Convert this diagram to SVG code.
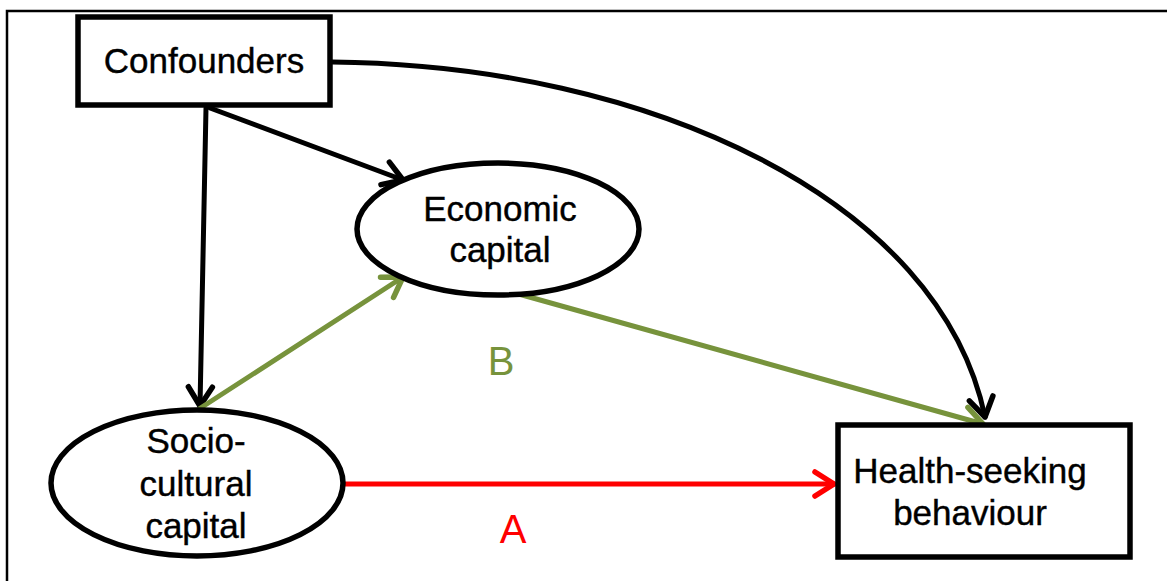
<svg xmlns="http://www.w3.org/2000/svg" width="1167" height="581" viewBox="0 0 1167 581">
<style>
.node{fill:#fff;stroke:#000;stroke-width:5.5}
.lbl{font-family:"Liberation Sans",Arial,sans-serif;font-size:35px;text-anchor:middle;fill:#000;stroke:#000;stroke-width:0.4}
.edge{fill:none;stroke-width:5;stroke-linecap:round}
.k{stroke:#000}
.g{stroke:#77933c}
.r{stroke:#ff0000}
.tag{font-family:"Liberation Sans",Arial,sans-serif;font-size:40px;text-anchor:middle}
</style>
<defs>
<marker id="mk" markerWidth="40" markerHeight="40" refX="0" refY="0" orient="auto" markerUnits="userSpaceOnUse" viewBox="-25 -20 40 40">
<path d="M-19,-12 L0,0 L-19,12" fill="none" stroke="#000" stroke-width="5.5" stroke-linecap="round" stroke-linejoin="round"/>
</marker>
<marker id="mg" markerWidth="40" markerHeight="40" refX="0" refY="0" orient="auto" markerUnits="userSpaceOnUse" viewBox="-25 -20 40 40">
<path d="M-19,-12 L0,0 L-19,12" fill="none" stroke="#77933c" stroke-width="5.5" stroke-linecap="round" stroke-linejoin="round"/>
</marker>
<marker id="mr" markerWidth="40" markerHeight="40" refX="0" refY="0" orient="auto" markerUnits="userSpaceOnUse" viewBox="-25 -20 40 40">
<path d="M-19,-12 L0,0 L-19,12" fill="none" stroke="#ff0000" stroke-width="5.5" stroke-linecap="round" stroke-linejoin="round"/>
</marker>
</defs>
<rect width="1167" height="581" fill="#fff"/>
<path d="M7,581 L7,11 L1167,11" fill="none" stroke="#000" stroke-width="2.5"/>
<g id="connectors">
<path class="edge k" d="M206,108 L200,406" marker-end="url(#mk)"/>
<path class="edge k" d="M210,108 L403,180" marker-end="url(#mk)"/>
<path class="edge k" d="M332,62 C650,65 940,200 985,417" marker-end="url(#mk)"/>
<path class="edge g" d="M199,409 L403,277" marker-end="url(#mg)"/>
<path class="edge g" d="M515,293 L983,424" marker-end="url(#mg)"/>
<path class="edge r" d="M343,484 L834,484" marker-end="url(#mr)"/>
<text class="tag" x="501" y="375" fill="#77933c">B</text>
<text class="tag" x="513" y="543" fill="#ff0000">A</text>
</g>
<g id="confounders">
<rect class="node" x="78" y="17" width="252" height="88"/>
<text class="lbl" x="204" y="73">Confounders</text>
</g>
<g id="economic">
<ellipse class="node" cx="498" cy="229" rx="141" ry="66"/>
<text class="lbl" x="500" y="221">Economic</text>
<text class="lbl" x="500" y="262">capital</text>
</g>
<g id="socio">
<ellipse class="node" cx="197" cy="483" rx="146" ry="73"/>
<text class="lbl" x="196" y="453">Socio-</text>
<text class="lbl" x="196" y="496">cultural</text>
<text class="lbl" x="196" y="538">capital</text>
</g>
<g id="health">
<rect class="node" x="838" y="425" width="292" height="132"/>
<text class="lbl" x="970" y="483">Health-seeking</text>
<text class="lbl" x="970" y="525">behaviour</text>
</g>
</svg>
